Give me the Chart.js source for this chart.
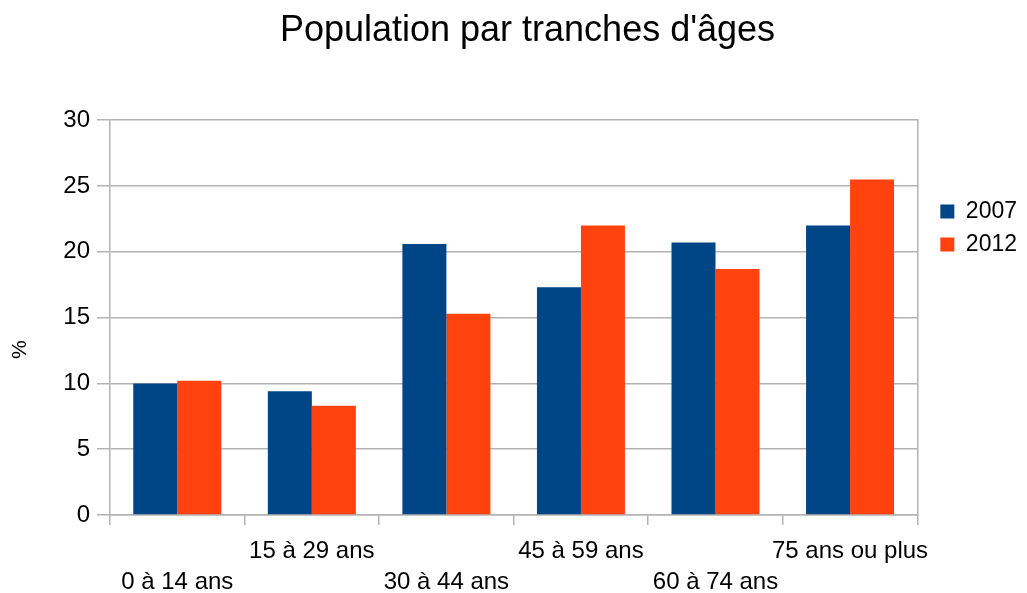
<!DOCTYPE html>
<html>
<head>
<meta charset="utf-8">
<script src="https://cdn.jsdelivr.net/npm/chart.js@4/dist/chart.umd.min.js"></script>
<style>
  html, body { margin: 0; padding: 0; background: #fff; }
  #wrap { width: 1027px; height: 593px; }
</style>
</head>
<body>
<div id="wrap"><canvas id="chart"></canvas></div>
<script>
// données
const categories = ["0 à 14 ans", "15 à 29 ans", "30 à 44 ans", "45 à 59 ans", "60 à 74 ans", "75 ans ou plus"];
const values2007 = [10.0, 9.4, 20.6, 17.3, 20.7, 22.0];
const values2012 = [10.2, 8.3, 15.3, 22.0, 18.7, 25.5];
const yTicks = [0, 5, 10, 15, 20, 25, 30];

const grey = "#b3b3b3";
const font = "'Liberation Sans', Arial, sans-serif";

Chart.defaults.font.family = font;
Chart.defaults.color = "#000";

new Chart(document.getElementById("chart"), {
  type: "bar",
  data: {
    labels: categories,
    datasets: [
      { label: "2007", data: values2007, backgroundColor: "#004586", yAxisID: "y" },
      { label: "2012", data: values2012, backgroundColor: "#ff420e", yAxisID: "y" }
    ]
  },
  options: {
    responsive: true,
    maintainAspectRatio: false,
    animation: false,
    categoryPercentage: 0.654,
    barPercentage: 1,
    layout: { padding: { left: 8, right: 0, top: 0, bottom: 0 } },
    plugins: {
      title: {
        display: true,
        // espaces en tête pour décaler le titre comme sur l'original
        text: "  Population par tranches d'âges",
        font: { size: 36, weight: "normal" },
        color: "#000",
        padding: { top: 9, bottom: 68 }
      },
      legend: {
        position: "right",
        align: "start",
        title: { display: true, text: " ", font: { size: 10 }, padding: { top: 178, bottom: 0 } },
        labels: {
          boxWidth: 14,
          boxHeight: 14,
          padding: 10,
          font: { size: 23 },
          color: "#000"
        }
      },
      tooltip: { enabled: false }
    },
    scales: {
      x: {
        afterFit: axis => { axis.height = 78; },
        grid: {
          offset: true,
          drawOnChartArea: false,
          color: grey,
          tickColor: grey,
          tickLength: 10,
          lineWidth: 1.5
        },
        border: { color: grey, width: 1.5 },
        ticks: {
          autoSkip: false,
          maxRotation: 0,
          minRotation: 0,
          padding: 11,
          font: { size: 24, lineHeight: 1.3 },
          callback: function(value, i) {
            return i % 2 === 0 ? ["", categories[i]] : [categories[i], ""];
          }
        }
      },
      y: {
        min: 0,
        max: 30,
        afterBuildTicks: axis => { axis.ticks = yTicks.map(v => ({ value: v })); },
        afterFit: axis => { axis.width = 102; },
        grid: { color: grey, tickColor: grey, tickLength: 13, lineWidth: 1.5 },
        border: { color: grey, width: 1.5 },
        ticks: { padding: 7, font: { size: 24 } },
        title: {
          display: true,
          // espaces en fin pour descendre le symbole comme sur l'original
          text: "%           ",
          font: { size: 21 },
          padding: 0
        }
      },
      y2: {
        position: "right",
        min: 0,
        max: 30,
        afterFit: axis => { axis.width = 13; },
        grid: { drawOnChartArea: false, drawTicks: false },
        border: { color: grey, width: 1.5 },
        ticks: { display: false }
      }
    }
  }
});
</script>
</body>
</html>
